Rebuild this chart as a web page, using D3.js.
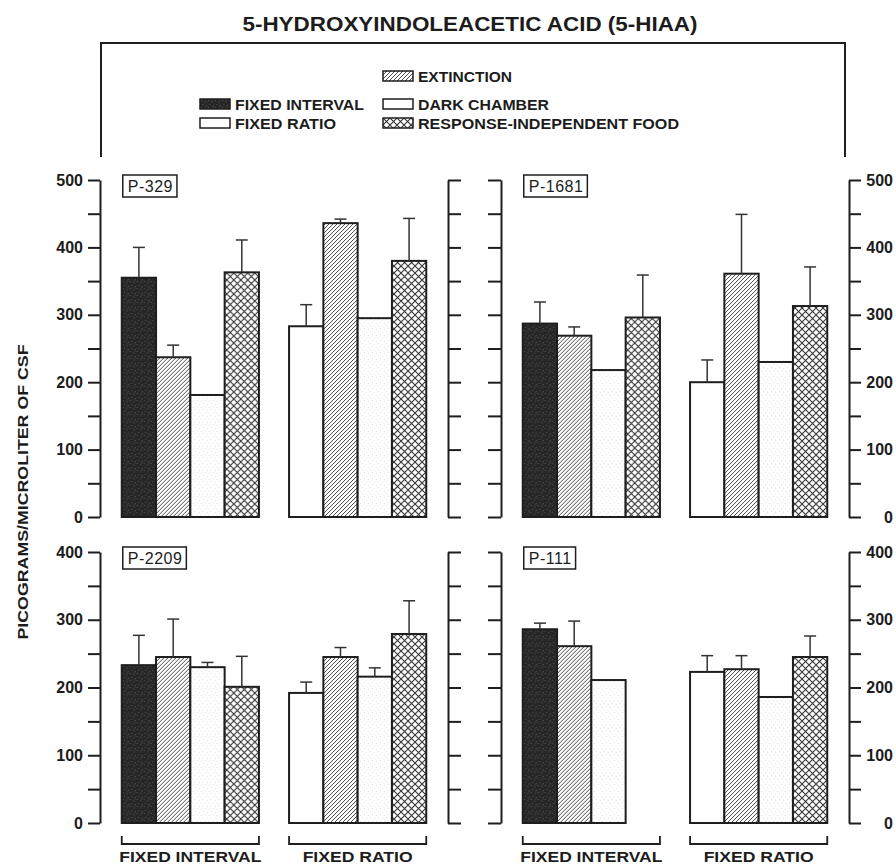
<!DOCTYPE html>
<html>
<head>
<meta charset="utf-8">
<script src="https://cdn.jsdelivr.net/npm/d3@7"></script>
<style>
  body { margin: 0; background: #fff; }
  svg { display: block; }
  text { font-family: "Liberation Sans", Arial, Helvetica, sans-serif; fill: #1c1c1c; }
</style>
</head>
<body>
<svg id="chart" width="896" height="867"></svg>
<script>
// ---- data -------------------------------------------------------------
const schedules = ["FIXED INTERVAL", "FIXED RATIO"];
const conditions = ["BASELINE", "EXTINCTION", "DARK CHAMBER", "RESPONSE-INDEPENDENT FOOD"];
const subjects = ["P-329", "P-1681", "P-2209", "P-111"];

// Means (pg/µl CSF) per schedule group: baseline, extinction, dark chamber, response-independent food
const p329Mean  = [[355, 237, 181, 363], [283, 436, 295, 380]];
const p329Sem   = [[45, 18, null, 48],   [32, 6, null, 63]];
const p1681Mean = [[287, 269, 218, 296], [200, 361, 230, 313]];
const p1681Sem  = [[32, 13, null, 63],   [33, 88, null, 58]];
const p2209Mean = [[233, 245, 230, 201], [192, 245, 216, 279]];
const p2209Sem  = [[44, 56, 7, 45],      [16, 14, 13, 49]];
const p111Mean  = [[286, 261, 211, null], [223, 227, 186, 245]];
const p111Sem   = [[9, 37, null, null],   [24, 20, null, 31]];

const means = [p329Mean, p1681Mean, p2209Mean, p111Mean];
const sems  = [p329Sem, p1681Sem, p2209Sem, p111Sem];

const rowMax = [500, 400];
const tickStep = 50;
const labelStep = 100;

const legendItems = [
  { label: "EXTINCTION", fill: "ext", col: 1, row: 0 },
  { label: "FIXED INTERVAL", fill: "fi", col: 0, row: 1 },
  { label: "DARK CHAMBER", fill: "none", col: 1, row: 1 },
  { label: "FIXED RATIO", fill: "none", col: 0, row: 2 },
  { label: "RESPONSE-INDEPENDENT FOOD", fill: "rif", col: 1, row: 2 }
];

// ---- setup ------------------------------------------------------------
const svg = d3.select("#chart");
const ink = "#1e1e1e";
const defs = svg.append("defs");

// dark stippled fill
const pFi = defs.append("pattern").attr("id", "fi").attr("patternUnits", "userSpaceOnUse")
  .attr("width", 7).attr("height", 7);
pFi.append("rect").attr("width", 7).attr("height", 7).attr("fill", "#272727");
[[1, 1], [4.5, 2.5], [2.5, 5], [6, 6], [5.5, 0.5]].forEach(([x, y]) =>
  pFi.append("rect").attr("x", x).attr("y", y).attr("width", 0.9).attr("height", 0.9).attr("fill", "#5e5e5e"));

// diagonal hatch
const pExt = defs.append("pattern").attr("id", "ext").attr("patternUnits", "userSpaceOnUse")
  .attr("width", 4).attr("height", 4);
pExt.append("rect").attr("width", 4).attr("height", 4).attr("fill", "#fff");
pExt.append("path").attr("d", "M-1,1 L1,-1 M0,4 L4,0 M3,5 L5,3")
  .attr("stroke", "#4a4a4a").attr("stroke-width", 1);

// faint stipple
const pDark = defs.append("pattern").attr("id", "dark").attr("patternUnits", "userSpaceOnUse")
  .attr("width", 8).attr("height", 6);
pDark.append("rect").attr("width", 8).attr("height", 6).attr("fill", "#fff");
[[1, 1], [5, 2], [3, 4], [7, 5]].forEach(([x, y]) =>
  pDark.append("rect").attr("x", x).attr("y", y).attr("width", 1).attr("height", 1).attr("fill", "#e2e2e2"));

// cross hatch
const pRif = defs.append("pattern").attr("id", "rif").attr("patternUnits", "userSpaceOnUse")
  .attr("width", 7).attr("height", 7);
pRif.append("rect").attr("width", 7).attr("height", 7).attr("fill", "#fff");
pRif.append("path").attr("d", "M0,0 L7,7 M7,0 L0,7")
  .attr("stroke", "#333").attr("stroke-width", 1.1);

function barFill(groupIdx, condIdx) {
  if (condIdx === 0) return groupIdx === 0 ? "url(#fi)" : "#fff";
  return ["", "url(#ext)", "url(#dark)", "url(#rif)"][condIdx];
}

// ---- title & frame ----------------------------------------------------
svg.append("text").attr("x", 470).attr("y", 31).attr("text-anchor", "middle")
  .attr("font-size", 20.5).attr("font-weight", "bold")
  .attr("textLength", 455).attr("lengthAdjust", "spacingAndGlyphs")
  .text("5-HYDROXYINDOLEACETIC ACID (5-HIAA)");

svg.append("path").attr("d", "M101,157 V43 H845 V157")
  .attr("fill", "none").attr("stroke", ink).attr("stroke-width", 2);

// ---- legend -----------------------------------------------------------
const legColX = [200, 383];
const legRowY = [71, 99, 118];
const legWidths = { "EXTINCTION": 94, "FIXED INTERVAL": 129, "DARK CHAMBER": 131,
  "FIXED RATIO": 101, "RESPONSE-INDEPENDENT FOOD": 261 };
legendItems.forEach(d => {
  const g = svg.append("g").attr("transform", `translate(${legColX[d.col]},${legRowY[d.row]})`);
  g.append("rect").attr("width", 30).attr("height", 10)
    .attr("fill", d.fill === "none" ? "#fff" : `url(#${d.fill})`)
    .attr("stroke", ink).attr("stroke-width", 1.5);
  g.append("text").attr("x", 35).attr("y", 10.5).attr("font-size", 14.5).attr("font-weight", "bold")
    .attr("fill", "#262626")
    .attr("textLength", legWidths[d.label]).attr("lengthAdjust", "spacingAndGlyphs")
    .text(d.label);
});

// ---- y axis title -----------------------------------------------------
svg.append("text").attr("transform", "translate(28,492) rotate(-90)")
  .attr("text-anchor", "middle").attr("font-size", 15).attr("font-weight", "bold")
  .attr("textLength", 295).attr("lengthAdjust", "spacingAndGlyphs")
  .text("PICOGRAMS/MICROLITER OF CSF");

// ---- panels -----------------------------------------------------------
const rowRange = [[517, 180], [823, 552]];
const colRange = [[100, 448], [501, 849]];
const panels = subjects.map((s, i) => ({ subject: s, idx: i, row: Math.floor(i / 2), col: i % 2 }));

panels.forEach(p => {
  const y = d3.scaleLinear().domain([0, rowMax[p.row]]).range(rowRange[p.row]);
  const [x0, x1] = colRange[p.col];
  const gx = d3.scaleBand().domain(schedules).range([x0, x1]).paddingInner(0.18).paddingOuter(0.13);
  const bx = d3.scaleBand().domain(d3.range(conditions.length)).range([0, gx.bandwidth()]).padding(0);
  const ticks = d3.range(0, rowMax[p.row] + 1, tickStep);
  const g = svg.append("g");

  // outer (labelled) axis and inner bracket
  const outer = p.col === 0 ? d3.axisLeft(y) : d3.axisRight(y);
  outer.tickValues(ticks).tickSize(12).tickSizeOuter(0).tickPadding(5)
    .tickFormat(d => d % labelStep === 0 ? d : "");
  const inner = p.col === 0 ? d3.axisRight(y) : d3.axisLeft(y);
  inner.tickValues(ticks).tickSize(13).tickSizeOuter(0).tickFormat("");

  const ga = g.append("g").attr("transform", `translate(${p.col === 0 ? x0 : x1},0)`).call(outer);
  const gi = g.append("g").attr("transform", `translate(${p.col === 0 ? x1 : x0},0)`).call(inner);
  [ga, gi].forEach(a => {
    a.select(".domain").attr("stroke", ink).attr("stroke-width", 2);
    a.selectAll(".tick line").attr("stroke", ink).attr("stroke-width", 2);
  });
  ga.selectAll(".tick text").attr("font-size", 16).attr("font-weight", "bold")
    .attr("fill", "#2a2a2a").attr("font-family", "Liberation Sans, Arial, sans-serif");
  if (p.col === 1) ga.selectAll(".tick text").attr("text-anchor", "end").attr("x", 44);

  // bars
  schedules.forEach((sch, gi2) => {
    const vals = means[p.idx][gi2];
    const errs = sems[p.idx][gi2];
    const grp = g.append("g").attr("transform", `translate(${gx(sch)},0)`);
    vals.forEach((v, ci) => {
      if (v == null) return;
      grp.append("rect")
        .attr("x", bx(ci)).attr("y", y(v))
        .attr("width", bx.bandwidth()).attr("height", y(0) - y(v))
        .attr("fill", barFill(gi2, ci)).attr("stroke", ink).attr("stroke-width", 2);
    });
    vals.forEach((v, ci) => {
      const e = errs[ci];
      if (v == null || e == null) return;
      const cx = bx(ci) + bx.bandwidth() / 2;
      grp.append("line").attr("x1", cx).attr("x2", cx).attr("y1", y(v)).attr("y2", y(v + e))
        .attr("stroke", "#333").attr("stroke-width", 1.5);
      grp.append("line").attr("x1", cx - 6).attr("x2", cx + 6).attr("y1", y(v + e)).attr("y2", y(v + e))
        .attr("stroke", "#333").attr("stroke-width", 1.5);
    });

    // schedule brackets under the bottom row
    if (p.row === 1) {
      const bxL = gx(sch), bxR = gx(sch) + gx.bandwidth();
      g.append("path").attr("d", `M${bxL},836 V844 H${bxR} V836`)
        .attr("fill", "none").attr("stroke", ink).attr("stroke-width", 1.8);
      g.append("text").attr("x", (bxL + bxR) / 2).attr("y", 862).attr("text-anchor", "middle")
        .attr("font-size", 15).attr("font-weight", "bold")
        .attr("textLength", sch === "FIXED INTERVAL" ? 142 : 110).attr("lengthAdjust", "spacingAndGlyphs")
        .text(sch);
    }
  });

  // subject label box
  const top = rowRange[p.row][1];
  const lx = gx(schedules[0]) + 1;
  const lg = g.append("g");
  const box = lg.append("rect");
  const lab = lg.append("text").attr("x", lx + 5).attr("y", top + 12)
    .attr("font-size", 16).attr("letter-spacing", 0.5).attr("fill", "#222").text(p.subject);
  const bb = lab.node().getBBox();
  box.attr("x", lx).attr("y", top - 5)
    .attr("width", bb.width + 9).attr("height", 22)
    .attr("fill", "#fff").attr("stroke", ink).attr("stroke-width", 1.5);
});
</script>
</body>
</html>
